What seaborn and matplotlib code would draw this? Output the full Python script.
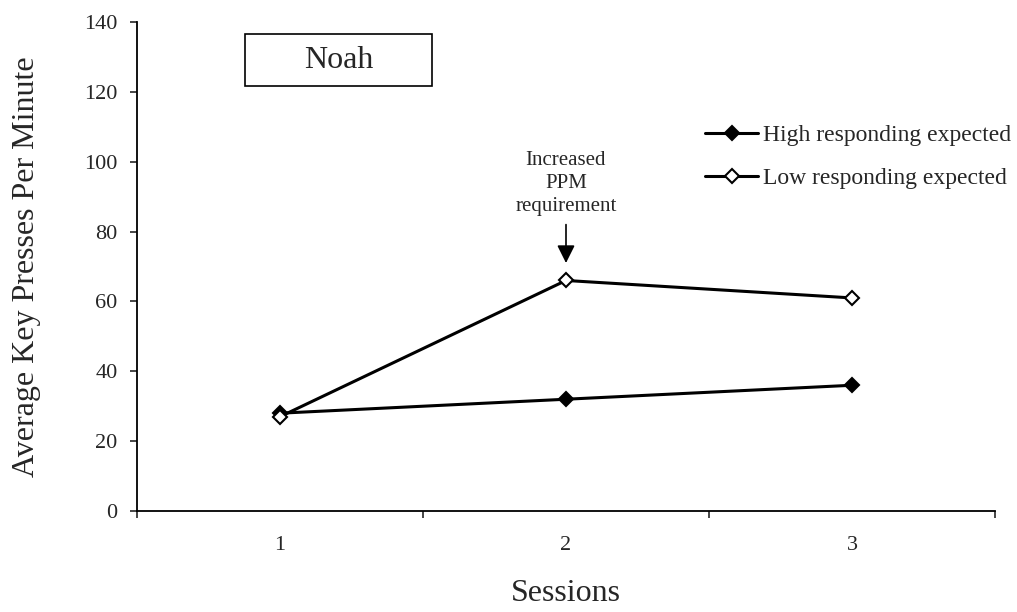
import matplotlib
matplotlib.use("Agg")
import matplotlib.pyplot as plt
from matplotlib.patches import Rectangle
import seaborn as sns
import pandas as pd

sessions = [1, 2, 3]
high_expected = [28, 32, 36]
low_expected = [27, 66, 61]
series_names = ["High responding expected", "Low responding expected"]
y_ticks = [0, 20, 40, 60, 80, 100, 120, 140]

df = pd.DataFrame({
    "session": sessions * 2,
    "ppm": high_expected + low_expected,
    "series": [series_names[0]] * 3 + [series_names[1]] * 3,
})

sns.set_style("ticks")
plt.rcParams["font.family"] = ["Liberation Serif", "DejaVu Serif"]

fig = plt.figure(figsize=(10.17, 6.12), dpi=100)
# axes box: x 137..995 px, y 22..511 px
ax = fig.add_axes([137 / 1017, (612 - 511) / 612, 858 / 1017, 489 / 612])

fills = ["black", "white"]
for name, fc in zip(series_names, fills):
    sub = df[df["series"] == name]
    sns.lineplot(data=sub, x="session", y="ppm", ax=ax, color="black", lw=2.2,
                 marker="D", markersize=7, markerfacecolor=fc,
                 markeredgecolor="black", markeredgewidth=1.5, label=name)

ax.set_xlim(0.5, 3.5)
ax.set_ylim(0, 140)
ax.set_yticks(y_ticks)
ax.set_xticks(sessions)
ax.set_xticklabels([str(s) for s in sessions])
ax.set_xticks([0.5, 1.5, 2.5, 3.5], minor=True)
ax.tick_params(axis="x", which="major", length=0, pad=18, labelsize=16)
ax.tick_params(axis="x", which="minor", length=5, width=1.2, direction="out")
ax.tick_params(axis="y", length=5, width=1.2, labelsize=16, pad=9)
for sp in ["left", "bottom"]:
    ax.spines[sp].set_linewidth(1.3)
    ax.spines[sp].set_color("black")
sns.despine(ax=ax)

ax.set_xlabel("Sessions", fontsize=23, labelpad=17)
ax.set_ylabel("Average Key Presses Per Minute", fontsize=23, labelpad=31)

ax.legend(loc="center left", bbox_to_anchor=(0.662, 0.724), frameon=False,
          fontsize=17, handlelength=2.25, handletextpad=0.2, labelspacing=0.9,
          borderpad=0, borderaxespad=0)

# "Noah" box
ax.add_patch(Rectangle((0.126, 0.869), 0.218, 0.106, transform=ax.transAxes,
                       fc="white", ec="black", lw=1.2, zorder=3))
ax.text(0.235, 0.922, "Noah", transform=ax.transAxes, fontsize=23,
        ha="center", va="center", zorder=4)

# phase change annotation
ax.text(2, 93.8, "Increased\nPPM\nrequirement", ha="center", va="center",
        fontsize=15, linespacing=1.3)
ax.annotate("", xy=(2, 71), xytext=(2, 82),
            arrowprops=dict(arrowstyle="-|>,head_length=0.6,head_width=0.3",
                            color="black", lw=1.2, mutation_scale=18,
                            shrinkA=0, shrinkB=0))

fig.savefig("out.png", dpi=100)
